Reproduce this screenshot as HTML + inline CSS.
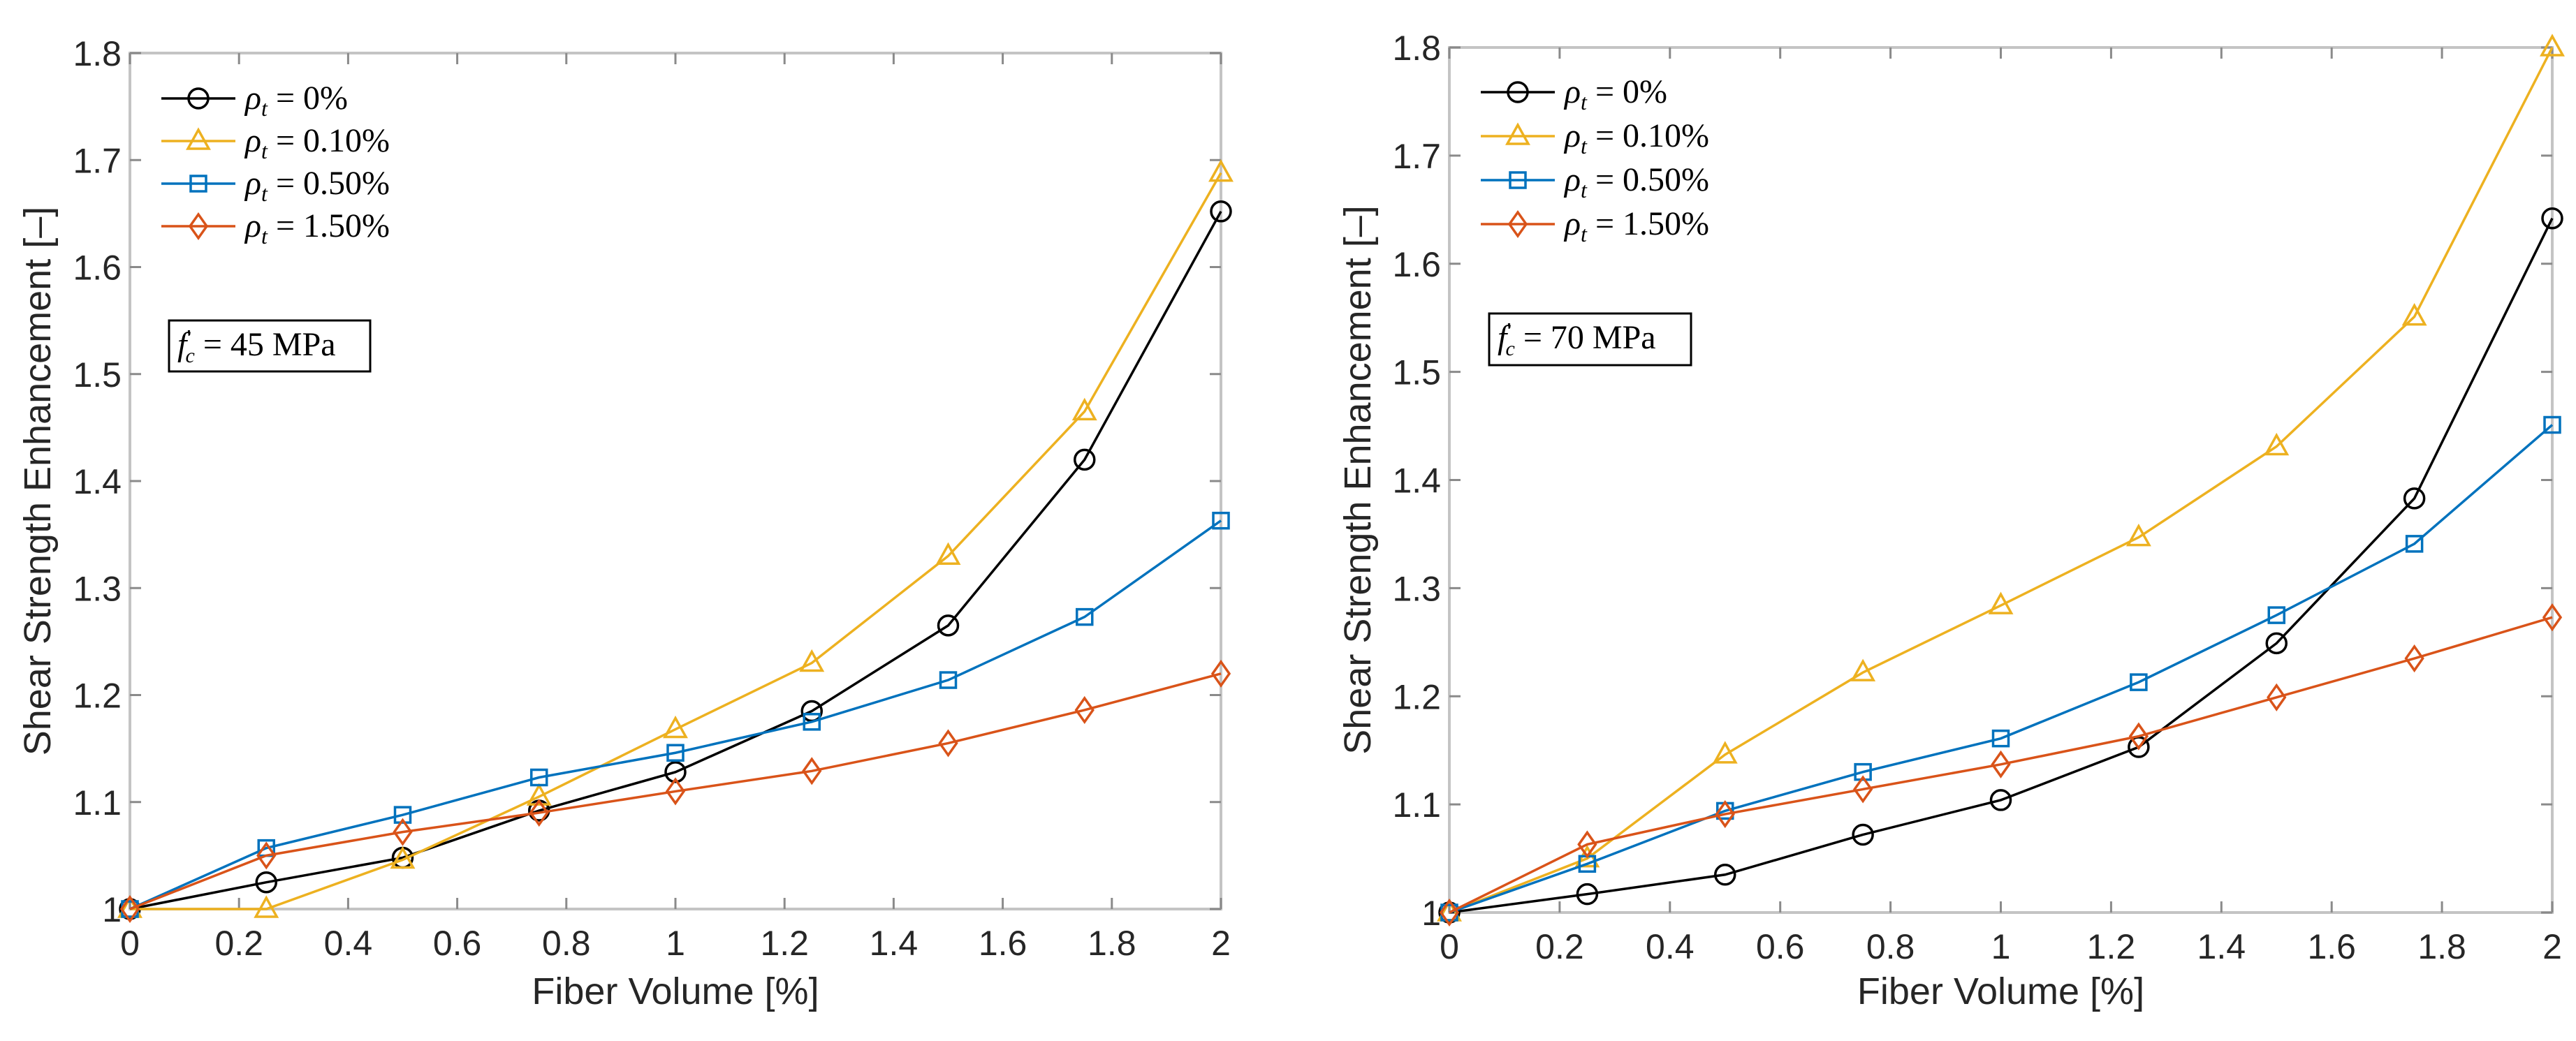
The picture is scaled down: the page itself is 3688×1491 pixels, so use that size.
<!DOCTYPE html>
<html><head><meta charset="utf-8">
<style>
html,body{margin:0;padding:0;background:#fff;}
svg{display:block;}
text{font-family:"Liberation Sans",sans-serif;}
</style></head>
<body>
<svg id="fig" width="3688" height="1491" viewBox="0 0 3688 1491" xmlns="http://www.w3.org/2000/svg"></svg>
<script>
const xVals = [0, 0.25, 0.5, 0.75, 1, 1.25, 1.5, 1.75, 2];
const xTicks = [0, 0.2, 0.4, 0.6, 0.8, 1, 1.2, 1.4, 1.6, 1.8, 2];
const yTicks = [1, 1.1, 1.2, 1.3, 1.4, 1.5, 1.6, 1.7, 1.8];
const seriesNames = ["0%", "0.10%", "0.50%", "1.50%"];
const left0 = [1, 1.025, 1.048, 1.092, 1.128, 1.185, 1.265, 1.42, 1.652];
const left010 = [1, 1.0, 1.046, 1.105, 1.168, 1.23, 1.33, 1.465, 1.688];
const left050 = [1, 1.057, 1.088, 1.123, 1.146, 1.175, 1.214, 1.273, 1.363];
const left150 = [1, 1.05, 1.072, 1.09, 1.11, 1.129, 1.155, 1.186, 1.22];
const right0 = [1, 1.017, 1.035, 1.072, 1.104, 1.153, 1.249, 1.383, 1.642];
const right010 = [1, 1.05, 1.146, 1.222, 1.284, 1.347, 1.431, 1.551, 1.8];
const right050 = [1, 1.045, 1.094, 1.13, 1.161, 1.213, 1.275, 1.341, 1.451];
const right150 = [1, 1.063, 1.091, 1.114, 1.137, 1.163, 1.199, 1.235, 1.273];
const leftLabel = "45";
const rightLabel = "70";

const NS = "http://www.w3.org/2000/svg";
const svg = document.getElementById("fig");
const colors = ["#000000", "#EDB120", "#0072BD", "#D95319"];
const markers = ["circle", "triangle", "square", "diamond"];

function mk(tag, attrs, parent) {
  const e = document.createElementNS(NS, tag);
  for (const k in attrs) e.setAttribute(k, attrs[k]);
  (parent || svg).appendChild(e);
  return e;
}

function drawMarker(g, type, x, y, color) {
  let m;
  if (type === "circle") m = mk("circle", {cx: x, cy: y, r: 14, fill: "none", stroke: color, "stroke-width": 3.5}, g);
  else if (type === "triangle") m = mk("polygon", {points: `${x},${y-16} ${x-15},${y+11} ${x+15},${y+11}`, fill: "none", stroke: color, "stroke-width": 3.5}, g);
  else if (type === "square") m = mk("rect", {x: x-11, y: y-11, width: 22, height: 22, fill: "none", stroke: color, "stroke-width": 3.5}, g);
  else m = mk("polygon", {points: `${x},${y-17} ${x+12},${y} ${x},${y+17} ${x-12},${y}`, fill: "none", stroke: color, "stroke-width": 3.5}, g);
  return m;
}

function drawChart(cfg) {
  const {x0, x1, yTop, yBot, series, id, fc, legX, legY, legGap, boxX, boxY, boxW, boxH, ylabX, xlabY} = cfg;
  const g = mk("g", {});
  
  
  const sx = v => x0 + (v - 0) / 2 * (x1 - x0);
  const sy = v => yBot - (v - 1) / 0.8 * (yBot - yTop);

  const box = mk("rect", {x: x0, y: yTop, width: x1 - x0, height: yBot - yTop, fill: "none", stroke: "#c4c4c4", "stroke-width": 4}, g);
  
  

  xTicks.forEach(t => {
    const x = sx(t);
    mk("line", {x1: x, y1: yBot, x2: x, y2: yBot - 16, stroke: "#8a8a8a", "stroke-width": 3}, g);
    mk("line", {x1: x, y1: yTop, x2: x, y2: yTop + 16, stroke: "#8a8a8a", "stroke-width": 3}, g);
    const tl = mk("text", {x: x, y: yBot + 66, "text-anchor": "middle", "font-size": 50, fill: "#262626"}, g);
    tl.textContent = String(t);
    
    
  });
  yTicks.forEach(t => {
    const y = sy(t);
    mk("line", {x1: x0, y1: y, x2: x0 + 16, y2: y, stroke: "#8a8a8a", "stroke-width": 3}, g);
    mk("line", {x1: x1, y1: y, x2: x1 - 16, y2: y, stroke: "#8a8a8a", "stroke-width": 3}, g);
    const tl = mk("text", {x: x0 - 12, y: y + 18, "text-anchor": "end", "font-size": 50, fill: "#262626"}, g);
    tl.textContent = String(t);
    
    
  });

  const xt = mk("text", {x: (x0 + x1) / 2, y: xlabY, "text-anchor": "middle", "font-size": 54, fill: "#262626"}, g);
  xt.textContent = "Fiber Volume [%]";
  
  
  const ymid = (yTop + yBot) / 2;
  const yt = mk("text", {x: ylabX, y: ymid, "text-anchor": "middle", "font-size": 54, fill: "#262626", transform: `rotate(-90 ${ylabX} ${ymid})`}, g);
  yt.textContent = "Shear Strength Enhancement [\u2013]";
  
  

  series.forEach((vals, i) => {
    const sg = mk("g", {}, g);
    
    
    const pts = vals.map((v, j) => sx(xVals[j]) + "," + sy(v)).join(" ");
    mk("polyline", {points: pts, fill: "none", stroke: colors[i], "stroke-width": 3.5}, sg);
    vals.forEach((v, j) => {
      const m = drawMarker(sg, markers[i], sx(xVals[j]), sy(v), colors[i]);
      
      
    });
  });

  const lg = mk("g", {}, g);
  
  
  seriesNames.forEach((n, i) => {
    const y = legY + i * legGap;
    const e = mk("g", {}, lg);
    
    
    mk("line", {x1: legX, y1: y, x2: legX + 106, y2: y, stroke: colors[i], "stroke-width": 3.5}, e);
    drawMarker(e, markers[i], legX + 53, y, colors[i]);
    const t = mk("text", {x: legX + 120, y: y + 15, "font-size": 48, fill: "#000", style: 'font-family:"Liberation Serif",serif'}, e);
    t.innerHTML = '<tspan font-style="italic">\u03C1</tspan><tspan font-style="italic" font-size="32" dy="10">t</tspan><tspan dy="-10"> = ' + n.replace('%', '') + '%</tspan>';
  });

  const ag = mk("g", {}, g);
  
  
  mk("rect", {x: boxX, y: boxY, width: boxW, height: boxH, fill: "#fff", stroke: "#000", "stroke-width": 3}, ag);
  const at = mk("text", {x: boxX + 12, y: boxY + 50, "font-size": 48, fill: "#000", style: 'font-family:"Liberation Serif",serif'}, ag);
  at.innerHTML = '<tspan font-style="italic">f</tspan><tspan font-size="34" dy="-14">\'</tspan><tspan font-style="italic" font-size="30" dx="-8" dy="24">c</tspan><tspan dy="-10"> = ' + fc + ' MPa</tspan>';
}

drawChart({id: "left", x0: 186, x1: 1748, yTop: 76, yBot: 1302, series: [left0, left010, left050, left150],
  fc: leftLabel, legX: 231, legY: 141, legGap: 61, boxX: 242, boxY: 459, boxW: 288, boxH: 73, ylabX: 72, xlabY: 1438});
drawChart({id: "right", x0: 2075, x1: 3654, yTop: 68, yBot: 1307, series: [right0, right010, right050, right150],
  fc: rightLabel, legX: 2120, legY: 132, legGap: 63, boxX: 2132, boxY: 449, boxW: 289, boxH: 74, ylabX: 1962, xlabY: 1438});
</script>
</body></html>
